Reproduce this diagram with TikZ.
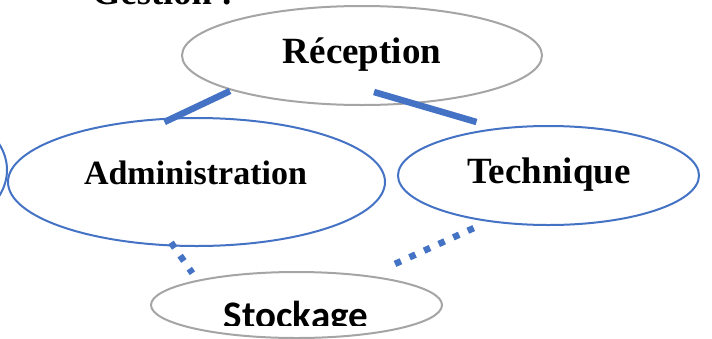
\documentclass[tikz,border=0pt]{standalone}
\usepackage{fontspec}
\setmainfont{Liberation Serif}
\newfontfamily\calib{Carlito}
\usetikzlibrary{shapes.geometric}
\definecolor{obl}{HTML}{4472C4}
\definecolor{ogr}{HTML}{A5A5A5}
\begin{document}
\begin{tikzpicture}[x=1pt,y=-1pt,
 ell/.style={ellipse, draw, line width=2pt, inner sep=0pt},
 bl/.style={ell, draw=obl}, gr/.style={ell, draw=ogr},
 lbl/.style={anchor=base, inner sep=0pt, font=\bfseries},
 conn/.style={draw=obl, line width=6.5pt},
 dotline/.style={draw=obl, line width=6.5pt, dash pattern=on 6.5pt off 9.5pt}]
\useasboundingbox (0,0) rectangle (712,338);
% ellipses
\node[gr, minimum width=360pt, minimum height=99pt] (rec) at (362,55.5) {};
\node[bl, minimum width=377pt, minimum height=128pt] (adm) at (196.5,182) {};
\node[bl, minimum width=301pt, minimum height=99pt] (tec) at (548.5,175.5) {};
\node[gr, minimum width=291pt, minimum height=66pt] (sto) at (296.5,305) {};
\node[bl, minimum width=194pt, minimum height=132pt] (lef) at (-90,170) {};
% labels
\node[lbl, anchor=base west, font=\bfseries\fontsize{36.5}{36.5}\selectfont] (ges) at (92,4.5) {Gestion :};
\node[lbl, font=\bfseries\fontsize{37}{37}\selectfont] (trec) at (362,63) {Réception};
\node[lbl, font=\bfseries\fontsize{34}{34}\selectfont] (tadm) at (195.5,184) {Administration};
\node[lbl, font=\bfseries\fontsize{37}{37}\selectfont] (ttec) at (549,183) {Technique};
\begin{scope}
\clip (0,0) rectangle (712,325);
\node[lbl, font=\calib\bfseries\fontsize{39}{39}\selectfont] (tsto) at (296,328) {Stockage};
\end{scope}
% connector ends
\coordinate (a1) at (230,91);
\coordinate (a2) at (164.5,122);
\coordinate (b1) at (374,92);
\coordinate (b2) at (476.5,122);
\coordinate (c1) at (171,242.5);
\coordinate (c2) at (192.4,273.2);
\coordinate (d1) at (395,263.9);
\coordinate (d2) at (473.7,228.1);
\draw[conn] (a1) -- (a2);
\draw[conn] (b1) -- (b2);
\draw[dotline] (c1) -- (c2);
\draw[dotline] (d1) -- (d2);
\end{tikzpicture}
\end{document}
